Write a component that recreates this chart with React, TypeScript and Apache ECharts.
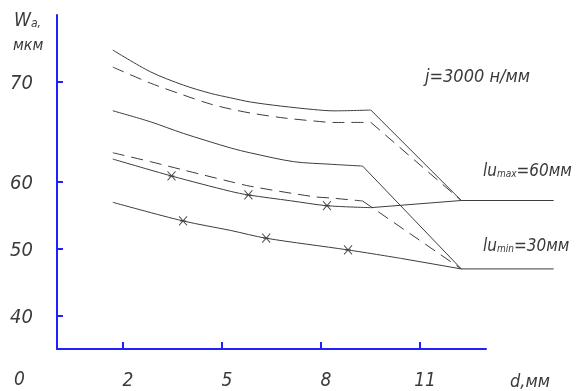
import React, { useEffect, useRef } from "react";
import * as echarts from "echarts";

// ---- data (d, mm ; Wa, µm) ----
const curveA: number[][] = [[1.69, 73.17], [2.83, 71.0], [3.83, 69.67], [4.65, 68.85], [5.26, 68.4], [5.87, 67.98], [6.78, 67.58], [7.78, 67.23], [8.39, 67.1], [9.51, 67.18], [12.25, 57.23]];
const curveB: number[][] = [[1.69, 71.47], [2.83, 69.87], [3.83, 68.68], [4.65, 67.78], [5.26, 67.28], [5.87, 66.88], [6.78, 66.43], [7.78, 66.09], [8.39, 65.94], [9.51, 65.95], [12.25, 57.23]];
const curveC: number[][] = [[1.69, 67.11], [2.83, 66.01], [3.83, 64.85], [5.26, 63.4], [5.87, 62.9], [7.17, 62.03], [8.3, 61.77], [9.26, 61.59], [12.25, 46.99]];
const curveD: number[][] = [[1.69, 62.92], [2.83, 62.03], [3.83, 61.2], [5.26, 60.03], [5.87, 59.35], [7.78, 57.8], [8.3, 57.6], [9.26, 57.16], [12.25, 46.99]];
const curveE: number[][] = [[1.69, 62.29], [3.47, 60.6], [5.26, 58.6], [5.8, 58.06], [7.08, 57.19], [8.18, 56.45], [9.51, 56.16], [12.25, 57.23]];
const curveF: number[][] = [[1.69, 56.96], [3.82, 54.17], [5.26, 52.75], [6.34, 51.58], [8.82, 49.83], [10.43, 48.56], [12.25, 46.99]];
const tailMax: number[][] = [[12.25, 57.23], [15.05, 57.23]];
const tailMin: number[][] = [[12.25, 46.99], [15.05, 46.99]];
const markersE: number[][] = [[3.47, 60.6], [5.8, 58.06], [8.18, 56.45]];
const markersF: number[][] = [[3.82, 54.17], [6.34, 51.58], [8.82, 49.83]];

const xTicks = [2, 5, 8, 11];
const yTicks = [40, 50, 60, 70];

// the drawn y scale is stretched above 60 (60..70 spans 1.5 times the lower decades)
const warp = (v: number) => (v <= 60 ? v : 60 + (v - 60) * 1.5);
const unwarp = (u: number) => (u <= 60 ? u : 60 + (u - 60) / 1.5);

const FONT = "'DejaVu Sans Condensed', 'Liberation Sans Narrow', 'DejaVu Sans', sans-serif";
const TXT = "#3a3a3a";
const LINE = "#3c3c3c";
const AXIS = "#1f1fff";

export default function App() {
  const ref = useRef<HTMLDivElement>(null);
  useEffect(() => {
    if (!ref.current) return;
    const chart = echarts.init(ref.current, undefined, { renderer: "svg" });
    const toData = (arr: number[][]) => arr.map(([x, y]) => [x, warp(y)]);
    const base = (data: number[][], dashed: boolean, smooth: number) => ({
      type: "line",
      xAxisIndex: 1,
      yAxisIndex: 1,
      data: toData(data),
      symbol: "none",
      smooth,
      clip: false,
      silent: true,
      lineStyle: { color: LINE, width: 1, type: dashed ? [12, 7] : "solid" },
    });
    // curved part (smoothed) + straight converging segment
    const curve = (arr: number[][], dashed: boolean) => [
      base(arr.slice(0, -1), dashed, 0.3),
      base(arr.slice(-2), dashed, 0),
    ];
    const markerSeries = (arr: number[][]) => ({
      type: "scatter",
      xAxisIndex: 1,
      yAxisIndex: 1,
      data: toData(arr),
      symbol: "path://M0,0L8,10M8,0L0,10M1,5L7,5",
      symbolSize: [8, 9],
      itemStyle: { color: "transparent", borderColor: "#222", borderWidth: 1 },
      silent: true,
    });
    const text = (x: number, y: number, t: string, size: number, rich?: any) => ({
      type: "text",
      x,
      y,
      style: {
        text: t,
        fill: TXT,
        font: `italic ${size}px ${FONT}`,
        fontFamily: FONT,
        fontStyle: "italic",
        fontSize: size,
        verticalAlign: "middle",
        rich,
      },
    });
    const sub = (size: number, pad: number) => ({ s: { fontSize: size, fontStyle: "italic", fontFamily: FONT, fill: TXT, padding: [pad, 0, 0, 0] } });
    chart.setOption({
      animation: false,
      grid: [
        { left: 57, right: 94, top: 15, bottom: 42 },
        // same scale (33 px per mm), wider extent so the right-hand tails are drawn
        { left: 57, right: 11.5, top: 15, bottom: 42 },
      ],
      xAxis: [
        {
          type: "value",
          gridIndex: 0,
          min: 0,
          max: 13,
          axisLine: { lineStyle: { color: AXIS, width: 2 } },
          axisTick: { inside: true, length: 7, customValues: xTicks, lineStyle: { color: AXIS, width: 2 } },
          axisLabel: {
            customValues: xTicks,
            margin: 20,
            padding: [0, 0, 0, 10],
            color: TXT,
            fontSize: 19,
            fontStyle: "italic",
            fontFamily: FONT,
          },
          splitLine: { show: false },
        },
        { type: "value", gridIndex: 1, min: 0, max: 15.5, show: false, splitLine: { show: false } },
      ],
      yAxis: [
        {
          type: "value",
          gridIndex: 0,
          min: 35,
          max: 85,
          axisLine: { show: true, lineStyle: { color: AXIS, width: 2 } },
          axisTick: { show: true, inside: true, length: 6, customValues: yTicks.map(warp), lineStyle: { color: AXIS, width: 2 } },
          axisLabel: {
            customValues: yTicks.map(warp),
            formatter: (v: number) => String(Math.round(unwarp(v))),
            margin: 24,
            color: TXT,
            fontSize: 20,
            fontStyle: "italic",
            fontFamily: FONT,
          },
          splitLine: { show: false },
        },
        { type: "value", gridIndex: 1, min: 35, max: 85, show: false, splitLine: { show: false } },
      ],
      series: [
        ...curve(curveA, false),
        ...curve(curveB, true),
        ...curve(curveC, false),
        ...curve(curveD, true),
        ...curve(curveE, false),
        ...curve(curveF, false),
        base(tailMax, false, 0),
        base(tailMin, false, 0),
        markerSeries(markersE),
        markerSeries(markersF),
      ],
      graphic: [
        text(14, 19, "W{s|a,}", 19, sub(12, 8)),
        text(13, 44, "мкм", 16),
        text(14, 378, "0", 19),
        text(510, 380, "d,мм", 18),
        text(425, 75, "j=3000 н/мм", 18),
        text(483, 170, "lu{s|max}=60мм", 17, sub(10, 6)),
        text(483, 245, "lu{s|min}=30мм", 17, sub(10, 6)),
      ],
    });
    return () => chart.dispose();
  }, []);
  return <div ref={ref} style={{ position: "fixed", left: 0, top: 0, width: 580, height: 391 }} />;
}
